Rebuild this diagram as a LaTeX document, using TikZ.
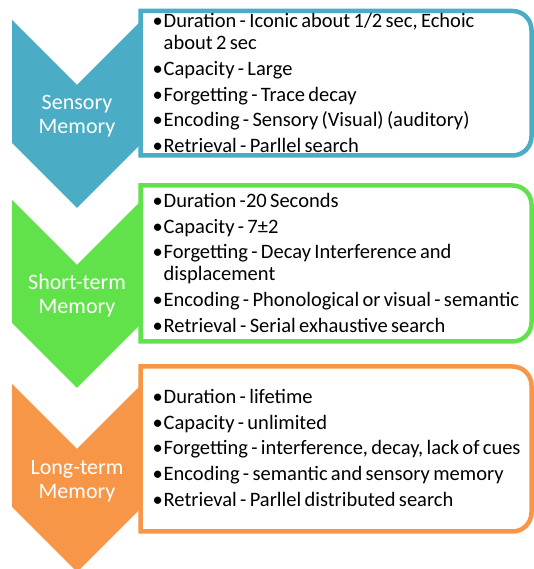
\documentclass[tikz,border=0pt]{standalone}
\usepackage{fontspec}
\setmainfont{Carlito}

\definecolor{sensblue}{RGB}{75,172,198}
\definecolor{stmgreen}{RGB}{98,226,74}
\definecolor{ltmorange}{RGB}{247,150,70}

% downward chevron: #1 = top edge, #2 = colour
\newcommand\chevronshape[2]{%
  \fill[#2] (12,#1) -- (77,{#1-65}) -- (142,#1) -- (142,{#1-123})
    -- (77,{#1-188}) -- (12,{#1-123}) -- cycle;}
% list frame, square on the left, rounded on the right: #1 top, #2 bottom, #3 colour
\newcommand\listframe[3]{%
  \draw[#3, line width=4.5pt, fill=white, line join=miter]
    (140.5,#1) -- (512.5,#1) arc[start angle=90,end angle=0,radius=19]
    -- (531.5,{#2+19}) arc[start angle=0,end angle=-90,radius=19]
    -- (140.5,#2) -- cycle;}
% bulleted entries with a hanging indent; later entries get a small gap above
\newcommand\bulletbox{\makebox[10pt][l]{\hspace*{-1pt}•}}
\newcommand\firstitm[1]{\hangindent=10pt\hangafter=1\noindent\bulletbox#1}
\newcommand\itm[1]{\par\vskip3.6pt\hangindent=10pt\hangafter=1\noindent\bulletbox#1}
\newcommand\listsetup{\fontsize{20.5pt}{22pt}\selectfont\raggedright\setlength\parskip{0pt}}

\tikzset{
  chevlabel/.style={text=white, font=\fontsize{22pt}{23.3pt}\selectfont,
    align=center, text width=128pt, inner sep=0pt, anchor=base},
  itemlist/.style={text=black, text width=385pt, inner sep=0pt, anchor=base west}
}

\begin{document}
\begin{tikzpicture}[x=1pt,y=1pt]
\useasboundingbox (0,0) rectangle (534,569);
\fill[white] (0,0) rectangle (534,569);

% stages
\chevronshape{549}{sensblue}
\chevronshape{369}{stmgreen}
\chevronshape{185}{ltmorange}

\listframe{558}{413.5}{sensblue}
\listframe{383.5}{227.5}{stmgreen}
\listframe{202.5}{37.5}{ltmorange}

\node[chevlabel] (sens) at (77,459) {Sensory\\Memory};
\node[chevlabel] (stm) at (77,279) {Short-term\\Memory};
\node[chevlabel] (ltm) at (77,94) {Long-term\\Memory};

\node[itemlist] (senslist) at (153.5,541) {\listsetup
  \firstitm{Duration - Iconic about 1/2 sec, Echoic\newline about 2 sec}
  \itm{Capacity - Large}
  \itm{Forgetting - Trace decay}
  \itm{Encoding - Sensory (Visual) (auditory)}
  \itm{Retrieval - Parllel search}\par};

\node[itemlist] (stmlist) at (153.5,361.3) {\listsetup
  \firstitm{Duration -20 Seconds}
  \itm{Capacity - 7±2}
  \itm{Forgetting - Decay Interference and\newline displacement}
  \itm{Encoding - Phonological or visual - semantic}
  \itm{Retrieval - Serial exhaustive search}\par};

\node[itemlist] (ltmlist) at (153.5,165.3) {\listsetup
  \firstitm{Duration - lifetime}
  \itm{Capacity - unlimited}
  \itm{Forgetting - interference, decay, lack of cues}
  \itm{Encoding - semantic and sensory memory}
  \itm{Retrieval - Parllel distributed search}\par};
\end{tikzpicture}
\end{document}
